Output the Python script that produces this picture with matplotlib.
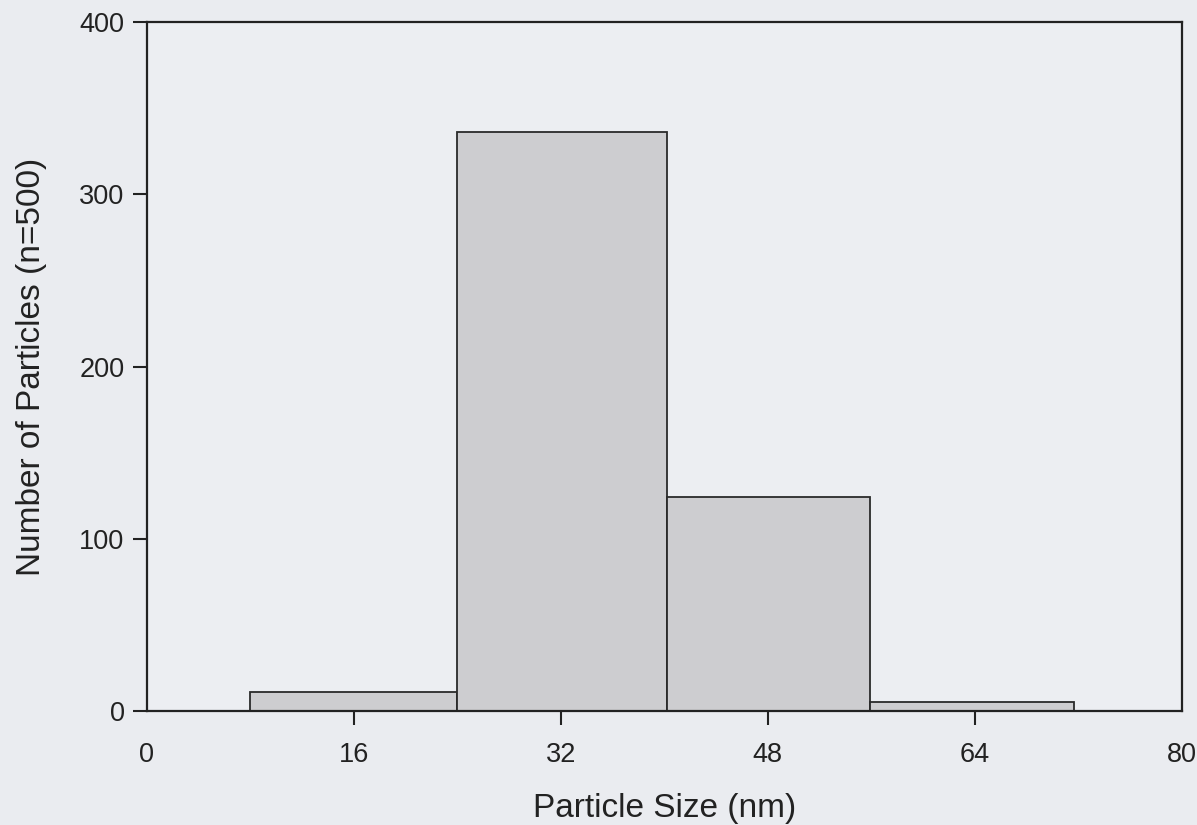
import matplotlib
matplotlib.use("Agg")
import matplotlib.pyplot as plt

bin_edges = [8, 24, 40.2, 55.9, 71.7]
counts = [11, 336, 124, 5]
x_ticks = [0, 16, 32, 48, 64, 80]
y_ticks = [0, 100, 200, 300, 400]

plt.rcParams['font.family'] = ['Liberation Sans', 'DejaVu Sans']

fig = plt.figure(figsize=(11.97, 8.25), dpi=100)
fig.patch.set_facecolor('#eaecf0')
ax = fig.add_axes([0.1226, 0.1382, 0.8646, 0.8351])
ax.set_facecolor('#eceef2')

lefts = bin_edges[:-1]
widths = [b - a for a, b in zip(bin_edges[:-1], bin_edges[1:])]
ax.bar(lefts, counts, width=widths, align='edge', color='#cdcdd0',
       edgecolor='#2a2a2a', linewidth=1.3)

ax.set_xlim(0, 80)
ax.set_ylim(0, 400)
ax.set_xticks(x_ticks)
ax.set_yticks(y_ticks)
ax.tick_params(axis='both', direction='out', labelsize=19.5, colors='#222222',
               width=1.5, length=10)
ax.tick_params(axis='x', pad=12)
ax.tick_params(axis='y', pad=6)
xt = ax.xaxis.get_major_ticks()
xt[0].tick1line.set_visible(False)
xt[-1].tick1line.set_visible(False)
for s in ax.spines.values():
    s.set_linewidth(1.6)
    s.set_color('#222222')

ax.set_xlabel('Particle Size (nm)', fontsize=24, color='#222222', labelpad=18)
ax.set_ylabel('Number of Particles (n=500)', fontsize=24, color='#222222', labelpad=23)

fig.savefig('out.png', dpi=100, facecolor=fig.get_facecolor())
